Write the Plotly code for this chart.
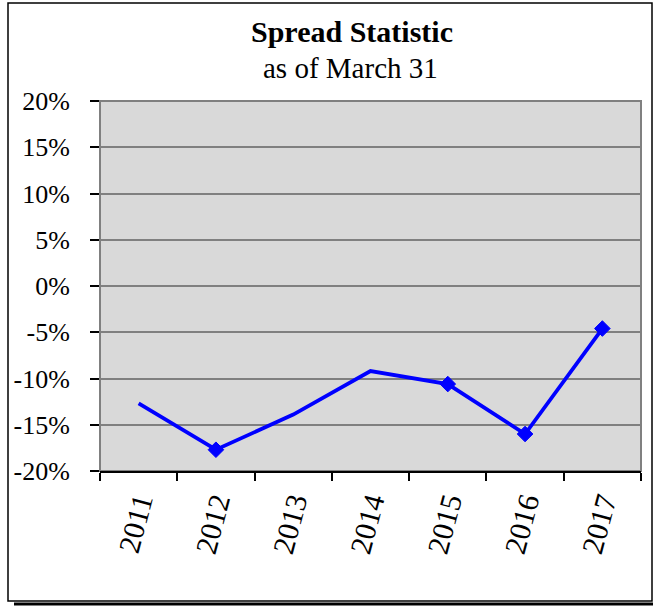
import plotly.graph_objects as go

# ---- data ----
years = ["2011", "2012", "2013", "2014", "2015", "2016", "2017"]
spread = [-0.127, -0.177, -0.139, -0.092, -0.106, -0.160, -0.046]
has_marker = [False, True, False, False, True, True, True]
y_tick_vals = [0.20, 0.15, 0.10, 0.05, 0.0, -0.05, -0.10, -0.15, -0.20]
y_tick_text = ["20%", "15%", "10%", "5%", "0%", "-5%", "-10%", "-15%", "-20%"]
title_main = "Spread Statistic"
title_sub = "as of March 31"

W, H = 653, 607
ML, MR, MT, MB = 100, 12, 101, 136
PW = W - ML - MR
PH = H - MT - MB


def px_x(p):
    return (p - ML) / PW


def px_y(p):
    return (H - MB - p) / PH


FONT = "Liberation Serif"

fig = go.Figure()
fig.add_trace(go.Scatter(
    x=years, y=spread, mode="lines+markers",
    line=dict(color="#0000FF", width=3.8),
    marker=dict(symbol="diamond", color="#0000FF", opacity=1,
                line=dict(color="#0000FF", width=1),
                size=[12 if m else 0 for m in has_marker]),
    showlegend=False, hoverinfo="x+y",
))

shapes = [
    # plot area border (gray)
    dict(type="rect", xref="paper", yref="paper", x0=0, x1=1, y0=0, y1=1,
         line=dict(color="#808080", width=2), layer="below"),
    # outer chart frame
    dict(type="rect", xref="paper", yref="paper",
         x0=px_x(8), x1=px_x(652), y0=px_y(601), y1=px_y(3),
         line=dict(color="black", width=1.5)),
    # frame shadow
    dict(type="line", xref="paper", yref="paper",
         x0=px_x(14), x1=px_x(653), y0=px_y(604), y1=px_y(604),
         line=dict(color="black", width=3)),
]

fig.update_layout(
    width=W, height=H,
    margin=dict(l=ML, r=MR, t=MT, b=MB, pad=0),
    paper_bgcolor="white", plot_bgcolor="#D9D9D9",
    font=dict(family=FONT, color="black"),
    shapes=shapes,
    annotations=[
        dict(text="<b>" + title_main + "</b>", xref="paper", yref="paper",
             x=px_x(352), y=px_y(32), xanchor="center", yanchor="middle",
             showarrow=False, font=dict(family=FONT, size=30, color="black")),
        dict(text=title_sub, xref="paper", yref="paper",
             x=px_x(350), y=px_y(68), xanchor="center", yanchor="middle",
             showarrow=False, font=dict(family=FONT, size=29, color="black")),
    ],
    xaxis=dict(
        type="category", range=[-0.5, 6.5],
        showline=True, linecolor="black", linewidth=2,
        ticks="outside", tickson="boundaries", ticklen=8, tickwidth=2,
        tickcolor="black", showgrid=False, zeroline=False,
        tickangle=-75, tickfont=dict(family=FONT, size=30, color="black"),
        ticklabelstandoff=0,
    ),
    yaxis=dict(
        range=[-0.2, 0.2], tickvals=y_tick_vals, ticktext=y_tick_text,
        showline=False, ticks="outside", ticklen=9, tickwidth=2,
        tickcolor="black", showgrid=True, gridcolor="#808080", gridwidth=2,
        zeroline=False, tickfont=dict(family=FONT, size=26, color="black"),
        ticklabelstandoff=15,
    ),
)

fig.write_html("out.html")
